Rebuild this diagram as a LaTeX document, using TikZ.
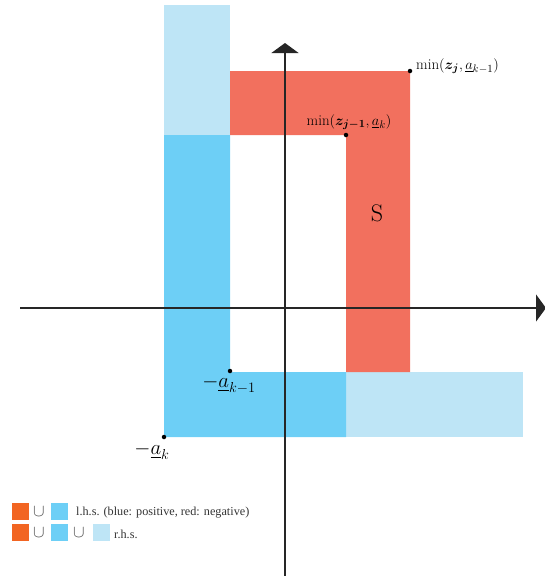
\documentclass[tikz,border=0pt]{standalone}
\usepackage{amsmath,amssymb,bm}
\usepackage{fontspec}
\newfontfamily\legfont{Liberation Serif}
\usetikzlibrary{arrows.meta}
\definecolor{redS}{HTML}{F2705E}
\definecolor{blueP}{HTML}{6DCFF6}
\definecolor{blueL}{HTML}{BEE5F6}
\definecolor{orangeN}{HTML}{F26522}
\definecolor{legtxt}{HTML}{333333}
\tikzset{
  axis/.style={line width=1.4pt, draw=black!85, -{Triangle[width=27pt,length=10pt]}},
  dotpt/.style={circle, fill=black, inner sep=0pt, minimum size=4.5pt},
  lbl/.style={inner sep=1pt, font=\fontsize{15}{17}\selectfont},
  biglbl/.style={inner sep=1pt, font=\fontsize{21}{24}\selectfont},
  sq/.style={minimum size=17pt, inner sep=0pt, anchor=north west},
  legtext/.style={anchor=west, inner sep=0pt, text=legtxt, font=\legfont\fontsize{12.2}{14}\selectfont},
  cupsym/.style={inner sep=0pt, text=black!70, font=\fontsize{19}{20}\selectfont}
}
\begin{document}
\begin{tikzpicture}[x=1pt,y=-1pt]
\useasboundingbox (0,0) rectangle (544,576);
% light blue regions
\fill[blueL] (164,5) rectangle (230,135);
\fill[blueL] (346,372) rectangle (523,437);
% blue region
\fill[blueP] (164,135) -- (230,135) -- (230,372) -- (346,372) -- (346,437) -- (164,437) -- cycle;
% red region
\fill[redS] (230,71) -- (410,71) -- (410,372) -- (346,372) -- (346,135) -- (230,135) -- cycle;
% axes
\coordinate (xs) at (20,308);
\coordinate (xe) at (546,308);
\coordinate (ys) at (285,576);
\coordinate (ye) at (285,43);
\draw[axis] (xs) -- (xe);
\draw[axis] (ys) -- (ye);
% points
\node[dotpt] (p1) at (410,71) {};
\node[dotpt] (p2) at (346,135) {};
\node[dotpt] (p3) at (230,371) {};
\node[dotpt] (p4) at (164,437) {};
\node[lbl, anchor=south west] (l1) at (415,75) {$\min(\boldsymbol{z_j},\underline{a}_{k-1})$};
\node[lbl, anchor=south] (l2) at (349,131) {$\min(\boldsymbol{z_{j-1}},\underline{a}_k)$};
\node[biglbl, anchor=north] (l3) at (229,374) {$-\underline{a}_{k-1}$};
\node[biglbl, anchor=north] (l4) at (152,441) {$-\underline{a}_k$};
\node[font=\fontsize{24}{26}\selectfont] (S) at (377,213) {S};
% legend
\node[sq, fill=orangeN] (o1) at (12,503) {};
\node[cupsym] (c1) at (39,512) {$\cup$};
\node[sq, fill=blueP] (b1) at (51,503) {};
\node[legtext] (t1) at (76,513) {l.h.s. (blue: positive, red: negative)};
\node[sq, fill=orangeN] (o2) at (12,524) {};
\node[cupsym] (c2) at (39,533) {$\cup$};
\node[sq, fill=blueP] (b2) at (51,524) {};
\node[cupsym] (c3) at (79,533) {$\cup$};
\node[sq, fill=blueL] (lb2) at (93,524) {};
\node[legtext] (t2) at (114,534) {r.h.s.};
\end{tikzpicture}
\end{document}
